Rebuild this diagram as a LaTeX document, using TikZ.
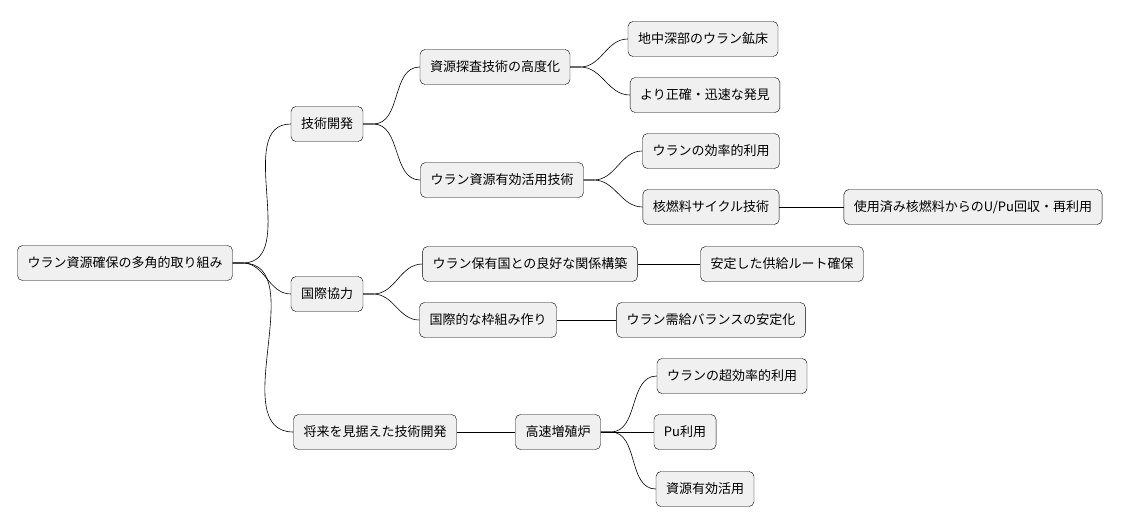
\documentclass[tikz,border=0pt]{standalone}
\usepackage{fontspec}
\setmainfont{Noto Sans CJK JP}
\begin{document}
\begin{tikzpicture}[x=1pt, y=-1pt,
        topic/.style={rectangle, draw, rounded corners=5pt, fill=black!6, minimum height=35pt, inner xsep=10pt, font=\fontsize{13}{15}\selectfont},
        branch/.style={draw, line width=0.6pt},
    ]
\useasboundingbox (0,0) rectangle (1123,527);

\node[topic] (Root) at (125,263) {ウラン資源確保の多角的取り組み};

\node[topic] (Tech) at (327,124) {技術開発};
\node[topic] (Explore) at (495,67) {資源探査技術の高度化};
\node[topic] (Deep) at (703,39) {地中深部のウラン鉱床};
\node[topic] (Fast) at (705,95) {より正確・迅速な発見};
\node[topic] (Use) at (502,180) {ウラン資源有効活用技術};
\node[topic] (Eff) at (711,151) {ウランの効率的利用};
\node[topic] (Cycle) at (711,207) {核燃料サイクル技術};
\node[topic] (Recycle) at (973,207) {使用済み核燃料からのU/Pu回収・再利用};

\node[topic] (Coop) at (327,294) {国際協力};
\node[topic] (Relation) at (530,264) {ウラン保有国との良好な関係構築};
\node[topic] (Route) at (782,264) {安定した供給ルート確保};
\node[topic] (Frame) at (488,320) {国際的な枠組み作り};
\node[topic] (Balance) at (711,320) {ウラン需給バランスの安定化};

\node[topic] (Future) at (375,432) {将来を見据えた技術開発};
\node[topic] (FBR) at (558,432) {高速増殖炉};
\node[topic] (Super) at (732,376) {ウランの超効率的利用};
\node[topic] (Pu) at (685,432) {Pu利用};
\node[topic] (Res) at (705,489) {資源有効活用};

% curved branches
\foreach \a/\b in {Root/Tech, Root/Coop, Root/Future, Tech/Explore, Tech/Use,
        Explore/Deep, Explore/Fast, Use/Eff, Use/Cycle, Coop/Relation, Coop/Frame,
        FBR/Super, FBR/Res}
    \draw[branch] (\a.east) -- ++(10,0) to[out=0, in=180] (\b.west);
% straight branches
\foreach \a/\b in {Cycle/Recycle, Relation/Route, Frame/Balance, Future/FBR, FBR/Pu}
    \draw[branch] (\a.east) -- (\b.west);
\end{tikzpicture}
\end{document}
